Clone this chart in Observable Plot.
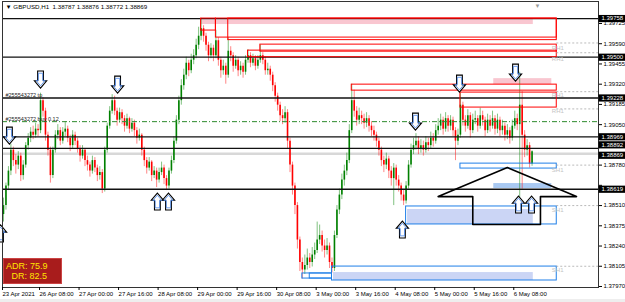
<!DOCTYPE html>
<html><head><meta charset="utf-8">
<script src="https://cdn.jsdelivr.net/npm/d3@7"></script>
<script src="https://cdn.jsdelivr.net/npm/@observablehq/plot@0.6"></script>
<style>
body{margin:0;background:#fff;}
#wrap{position:relative;width:625px;height:302px;overflow:hidden;font-family:"Liberation Sans",Arial,sans-serif;}
#wrap svg{position:absolute;left:0;top:0;}
#adr{position:absolute;left:3px;top:258px;width:57px;height:22px;background:#a81c1c;border:1px solid #cc4444;color:#ffe600;font-size:9px;line-height:10px;padding-top:2px;}
#adr div{white-space:pre;}
#strip{position:absolute;left:0;top:299px;width:625px;height:3px;background:#eeeeee;}
</style></head><body><div id="wrap"><div id="strip"></div></div>
<script>
// ---------- data ----------
const titleText = "▼ GBPUSD,H1  1.38787 1.38876 1.38772 1.38869";
const adrLines = ["ADR: 75.9", "  DR: 82.5"];
const firstOpen = 1.3845;
const close = [
1.3851,1.3864,1.3874,1.3888,1.3881,1.3878,1.3884,1.3871,1.3878,1.3891,
1.3896,1.3900,1.3898,1.3902,1.3901,1.3921,1.3914,1.3898,1.3888,1.3871,
1.3888,1.3898,1.3901,1.3894,1.3900,1.3902,1.3896,1.3891,1.3898,1.3894,
1.3889,1.3884,1.3888,1.3881,1.3878,1.3874,1.3881,1.3876,1.3871,1.3873,
1.3862,1.3888,1.3904,1.3914,1.3921,1.3914,1.3908,1.3913,1.3909,1.3904,
1.3909,1.3902,1.3906,1.3901,1.3896,1.3898,1.3888,1.3881,1.3876,1.3880,
1.3871,1.3874,1.3868,1.3873,1.3876,1.3869,1.3864,1.3874,1.3881,1.3894,
1.3908,1.3921,1.3931,1.3938,1.3946,1.3941,1.3948,1.3951,1.3958,1.3964,
1.3969,1.3964,1.3958,1.3951,1.3956,1.3951,1.3961,1.3948,1.3941,1.3944,
1.3938,1.3954,1.3951,1.3944,1.3948,1.3941,1.3944,1.3940,1.3948,1.3951,
1.3946,1.3949,1.3944,1.3948,1.3951,1.3948,1.3941,1.3942,1.3938,1.3931,
1.3924,1.3918,1.3911,1.3909,1.3913,1.3894,1.3878,1.3864,1.3851,1.3828,
1.3813,1.3808,1.3811,1.3816,1.3813,1.3818,1.3821,1.3828,1.3831,1.3824,
1.3821,1.3824,1.3813,1.3809,1.3831,1.3848,1.3858,1.3868,1.3874,1.3881,
1.3901,1.3921,1.3914,1.3908,1.3911,1.3909,1.3906,1.3909,1.3904,1.3901,
1.3898,1.3894,1.3888,1.3881,1.3878,1.3882,1.3874,1.3869,1.3876,1.3868,
1.3864,1.3858,1.3854,1.3864,1.3878,1.3888,1.3891,1.3894,1.3889,1.3891,
1.3888,1.3893,1.3891,1.3896,1.3894,1.3901,1.3904,1.3908,1.3902,1.3909,
1.3904,1.3908,1.3901,1.3894,1.3898,1.3918,1.3908,1.3904,1.3911,1.3901,
1.3908,1.3909,1.3904,1.3911,1.3908,1.3901,1.3908,1.3904,1.3909,1.3902,
1.3908,1.3901,1.3904,1.3898,1.3901,1.3896,1.3904,1.3909,1.3905,1.3918,
1.3898,1.3888,1.3891,1.38787,1.38869];
const high = [
1.3856,1.3866,1.3877,1.3892,1.3890,1.3885,1.3887,1.3886,1.3881,1.3893,
1.3899,1.3903,1.3904,1.3906,1.3905,1.3926,1.3923,1.3916,1.3900,1.3890,
1.3890,1.3901,1.3905,1.3903,1.3903,1.3907,1.3904,1.3898,1.3901,1.3900,
1.3896,1.3891,1.3891,1.3889,1.3884,1.3880,1.3884,1.3883,1.3878,1.3877,
1.3875,1.3890,1.3906,1.3917,1.3925,1.3924,1.3916,1.3916,1.3915,1.3911,
1.3912,1.3910,1.3909,1.3908,1.3903,1.3902,1.3899,1.3890,1.3883,1.3883,
1.3881,1.3877,1.3876,1.3876,1.3880,1.3878,1.3871,1.3876,1.3884,1.3897,
1.3911,1.3924,1.3935,1.3942,1.3950,1.3948,1.3952,1.3955,1.3962,1.3970,
1.3976,1.3971,1.3966,1.3960,1.3959,1.3958,1.3968,1.3963,1.3950,1.3948,
1.3946,1.3963,1.3957,1.3953,1.3951,1.3950,1.3947,1.3946,1.3951,1.3955,
1.3953,1.3952,1.3951,1.3951,1.3958,1.3953,1.3950,1.3946,1.3944,1.3940,
1.3933,1.3926,1.3920,1.3915,1.3917,1.3915,1.3896,1.3880,1.3866,1.3853,
1.3830,1.3816,1.3818,1.3822,1.3819,1.3823,1.3826,1.3840,1.3838,1.3834,
1.3828,1.3829,1.3826,1.3816,1.3834,1.3851,1.3862,1.3872,1.3878,1.3886,
1.3905,1.3932,1.3928,1.3917,1.3916,1.3914,1.3912,1.3913,1.3911,1.3907,
1.3904,1.3900,1.3896,1.3890,1.3884,1.3886,1.3884,1.3877,1.3879,1.3878,
1.3871,1.3866,1.3861,1.3867,1.3881,1.3892,1.3896,1.3899,1.3897,1.3895,
1.3894,1.3897,1.3896,1.3900,1.3899,1.3905,1.3909,1.3912,1.3910,1.3913,
1.3911,1.3911,1.3910,1.3903,1.3902,1.3926,1.3920,1.3911,1.3915,1.3913,
1.3912,1.3914,1.3911,1.3916,1.3914,1.3910,1.3912,1.3911,1.3914,1.3911,
1.3912,1.3910,1.3908,1.3906,1.3905,1.3903,1.3908,1.3914,1.3912,1.3940,
1.3927,1.3901,1.3895,1.3893,1.38876];
const low = [
1.3840,1.3848,1.3861,1.3871,1.3877,1.3872,1.3875,1.3867,1.3868,1.3876,
1.3888,1.3893,1.3895,1.3896,1.3897,1.3899,1.3910,1.3894,1.3884,1.3866,
1.3869,1.3886,1.3895,1.3891,1.3892,1.3897,1.3893,1.3887,1.3889,1.3891,
1.3886,1.3880,1.3882,1.3877,1.3874,1.3870,1.3872,1.3873,1.3867,1.3868,
1.3859,1.3860,1.3886,1.3902,1.3912,1.3911,1.3904,1.3906,1.3905,1.3900,
1.3902,1.3899,1.3900,1.3897,1.3892,1.3894,1.3884,1.3877,1.3872,1.3874,
1.3867,1.3869,1.3863,1.3866,1.3871,1.3865,1.3861,1.3862,1.3872,1.3879,
1.3892,1.3905,1.3918,1.3928,1.3935,1.3937,1.3939,1.3945,1.3949,1.3955,
1.3961,1.3960,1.3954,1.3947,1.3949,1.3947,1.3949,1.3944,1.3936,1.3938,
1.3932,1.3936,1.3947,1.3940,1.3942,1.3937,1.3938,1.3936,1.3938,1.3946,
1.3943,1.3944,1.3941,1.3942,1.3946,1.3945,1.3938,1.3938,1.3934,1.3927,
1.3920,1.3914,1.3907,1.3905,1.3906,1.3889,1.3873,1.3858,1.3845,1.3822,
1.3807,1.3802,1.3805,1.3808,1.3809,1.3810,1.3815,1.3819,1.3825,1.3820,
1.3816,1.3818,1.3809,1.3806,1.3807,1.3829,1.3845,1.3855,1.3864,1.3871,
1.3879,1.3899,1.3910,1.3904,1.3905,1.3905,1.3902,1.3903,1.3900,1.3897,
1.3894,1.3890,1.3884,1.3877,1.3873,1.3875,1.3869,1.3864,1.3851,1.3864,
1.3860,1.3854,1.3851,1.3852,1.3862,1.3876,1.3885,1.3888,1.3885,1.3886,
1.3884,1.3886,1.3887,1.3889,1.3890,1.3892,1.3898,1.3901,1.3898,1.3900,
1.3900,1.3901,1.3897,1.3881,1.3891,1.3896,1.3904,1.3900,1.3902,1.3896,
1.3899,1.3905,1.3900,1.3902,1.3904,1.3897,1.3899,1.3900,1.3902,1.3898,
1.3899,1.3897,1.3898,1.3894,1.3895,1.3892,1.3894,1.3902,1.3901,1.3856,
1.3862,1.3883,1.3884,1.3876,1.38772];

// time axis (bar index -> label)
const xTickIdx = [0,15,31,47,63,79,95,111,127,143,159,175,191,207];
const xTickLabels = ["23 Apr 2021","26 Apr 08:00","27 Apr 00:00","27 Apr 16:00","28 Apr 08:00",
  "29 Apr 00:00","29 Apr 16:00","30 Apr 08:00","3 May 00:00","3 May 16:00","4 May 08:00",
  "5 May 00:00","5 May 16:00","6 May 08:00"];
const yTicks = [1.39725,1.39590,1.39455,1.39320,1.39185,1.39050,1.38915,1.38780,1.38645,1.38510,1.38375,1.38240,1.38105,1.37970];
const yTicksHidden = [1.38915,1.38645]; // covered by price boxes

// horizontal levels
const blackLevels = [1.39758,1.39500,1.39228,1.38969,1.38892,1.38619];
const priceBoxes = [1.39758,1.39500,1.39228,1.38969,1.38619];
const priceBoxUpper = 1.38892;
const bidPrice = 1.38869;
const orderPrice = 1.39070;
const orderLabels = [["#255543272 tp", 1.39228], ["#255543272 buy 0.12", 1.39070]];

// zones: [startBar, endBar, priceTop, priceBottom]
const redBoxes = [[80,86,1.39758,1.39678],[86,224,1.39758,1.39631],[91,224,1.39758,1.39614],
  [104,224,1.39584,1.39537],[99,224,1.39544,1.39500],[141,224,1.39317,1.39277],[185,224,1.39264,1.39164]];
const blueBoxes = [[185,224,1.38790,1.38757],[163,224,1.38504,1.38384],[133,224,1.38103,1.38010],
  [121,133,1.38057,1.38023],[124,133,1.38057,1.38023]];
const pinkFills = [[80,214.5,1.39750,1.39718],[198.5,222,1.39357,1.39317]];
const blueFills = [[198.5,222,1.38657,1.38624]];
const lavFills = [[163.6,214.5,1.38484,1.38384],[133.6,214.5,1.38063,1.38010]];
const dashLevels = [1.39595,1.39530,1.39270,1.39155,1.38780,1.38510,1.38105];
const zoneTags = [["RH1",1.39560],["RH1",1.39490],["RH1",1.39250],["RH1",1.39140],["SH1",1.38750],["SH1",1.38480],["SH1",1.38080]];

// big hollow arrow outline [bar, price]
const bigArrow = [[204,1.38764],[176,1.38570],[190,1.38570],[190,1.38384],[217.4,1.38384],[217.4,1.38570],[232,1.38570],[204,1.38764]];
// fractal arrows [bar, price(center)]
const downArrows = [[2.4,1.38977],[15,1.39351],[46.2,1.39317],[166.8,1.39070],[184.6,1.39324],[207.3,1.39397]];
const upArrows = [[-1.2,1.38324],[62.3,1.38537],[66.8,1.38537],[161.5,1.38350],[208.5,1.38517],[213.8,1.38517]];
const chartShiftBar = 216.2;

// ---------- build ----------
const bars = close.map((c, i) => ({i, open: i ? close[i-1] : firstOpen, close: c, high: high[i], low: low[i]}));
bars.forEach(b => b.up = b.close >= b.open);
const box = a => ({x1: a[0], x2: a[1], y1: a[2], y2: a[3]});
const xDomain = [-0.4, 240.9];
const yDomain = [1.379633, 1.398718];

function arrowSym(up) {
  return {draw(ctx, size) {
    const r = Math.sqrt(size / Math.PI), s = up ? -1 : 1;
    const sw = 0.34 * r, hw = 0.72 * r, hy = 0.15 * r;
    ctx.moveTo(-sw, -s*r); ctx.lineTo(sw, -s*r); ctx.lineTo(sw, s*hy); ctx.lineTo(hw, s*hy);
    ctx.lineTo(0, s*r); ctx.lineTo(-hw, s*hy); ctx.lineTo(-sw, s*hy); ctx.closePath();
  }};
}
const labelBox = {draw(ctx) { ctx.rect(0, -3.6, 27, 7.2); }};
const fmt5 = d => d.toFixed(5);

const chart = Plot.plot({
  width: 625, height: 302,
  marginLeft: 2, marginRight: 27, marginTop: 1, marginBottom: 15,
  x: {domain: xDomain},
  y: {domain: yDomain},
  style: {fontFamily: "Liberation Sans, Arial, sans-serif", fontSize: "6px", background: "transparent", overflow: "visible", color: "#000"},
  marks: [
    Plot.rect(pinkFills.map(box), {x1: "x1", x2: "x2", y1: "y1", y2: "y2", fill: "#f9c6d0"}),
    Plot.rect(lavFills.map(box), {x1: "x1", x2: "x2", y1: "y1", y2: "y2", fill: "#cbd5f5"}),
    Plot.rect(blueFills.map(box), {x1: "x1", x2: "x2", y1: "y1", y2: "y2", fill: "#a9c9f2"}),
    Plot.ruleY([bidPrice], {stroke: "#d8d8d8", strokeWidth: 2.5, dy: 2}),
    Plot.ruleX(bars, {x: "i", y1: "low", y2: "high", stroke: d => d.up ? "#1a8f1a" : "#ff2020", strokeOpacity: 0.55, strokeWidth: 1}),
    Plot.ruleX(bars, {x: "i", y1: "open", y2: "close", stroke: d => d.up ? "#008000" : "#ff0000", strokeWidth: 1.6}),
    Plot.ruleY(blackLevels, {stroke: "#111", strokeWidth: 1.3}),
    Plot.ruleY([orderPrice], {stroke: "#2e8b2e", strokeWidth: 1, strokeDasharray: "5,2,1,2"}),
    Plot.rect(redBoxes.map(box), {x1: "x1", x2: "x2", y1: "y1", y2: "y2", fill: "none", stroke: "#ff0000", strokeWidth: 1}),
    Plot.rect(blueBoxes.map(box), {x1: "x1", x2: "x2", y1: "y1", y2: "y2", fill: "none", stroke: "#1f7fe8", strokeWidth: 1}),
    Plot.ruleY(dashLevels, {x1: 224, x2: xDomain[1], stroke: "#a8a8a8", strokeDasharray: "2,2", strokeWidth: 0.8}),
    Plot.text(zoneTags, {x: 222, y: d => d[1], text: d => d[0], fill: "#c4c4c4", textAnchor: "start", fontSize: 6}),
    Plot.line(bigArrow, {x: d => d[0], y: d => d[1], stroke: "#000", strokeWidth: 1.6}),
    Plot.dot(downArrows, {x: d => d[0], y: d => d[1], r: 8.5, symbol: arrowSym(false), fill: "#fff", stroke: "#000", strokeWidth: 1.1}),
    Plot.dot(downArrows, {x: d => d[0], y: d => d[1], r: 6.3, symbol: arrowSym(false), fill: "none", stroke: "#4a86e8", strokeWidth: 0.8}),
    Plot.dot(upArrows, {x: d => d[0], y: d => d[1], r: 8.5, symbol: arrowSym(true), fill: "#fff", stroke: "#000", strokeWidth: 1.1}),
    Plot.dot(upArrows, {x: d => d[0], y: d => d[1], r: 6.3, symbol: arrowSym(true), fill: "none", stroke: "#4a86e8", strokeWidth: 0.8}),
    Plot.text(orderLabels, {y: d => d[1], text: d => d[0], frameAnchor: "left", dx: 3, textAnchor: "start", lineAnchor: "bottom", dy: -1, fontSize: 5.5, fill: "#222"}),
    Plot.text([titleText], {frameAnchor: "top-left", dx: 3, dy: 3, textAnchor: "start", lineAnchor: "top", fontSize: 6.2, fill: "#000"}),
    Plot.text(["▼"], {x: chartShiftBar, frameAnchor: "top", dy: 2, lineAnchor: "top", fontSize: 6, fill: "#999"}),
    Plot.frame({stroke: "#333", strokeWidth: 1}),
    Plot.axisY({anchor: "right", ticks: yTicks, tickSize: 3, tickPadding: 2,
      tickFormat: d => yTicksHidden.includes(d) ? "" : fmt5(d), fontSize: 6, fill: "#000", stroke: "#000"}),
    Plot.axisX({anchor: "bottom", ticks: xTickIdx, tickSize: 3, tickPadding: 1.5, textAnchor: "start", dx: -1,
      tickFormat: d => xTickLabels[xTickIdx.indexOf(d)], fontSize: 6, fill: "#000", stroke: "#000"}),
    Plot.dot(priceBoxes, {y: d => d, frameAnchor: "right", symbol: labelBox, r: 3, fill: "#000"}),
    Plot.text(priceBoxes, {y: d => d, text: fmt5, frameAnchor: "right", dx: 3, textAnchor: "start", fill: "#fff", fontSize: 6}),
    Plot.dot([priceBoxUpper], {y: d => d, frameAnchor: "right", dy: -3.5, symbol: labelBox, r: 3, fill: "#000"}),
    Plot.text([priceBoxUpper], {y: d => d, text: fmt5, frameAnchor: "right", dx: 3, dy: -3.5, textAnchor: "start", fill: "#fff", fontSize: 6}),
    Plot.dot([bidPrice], {y: d => d, frameAnchor: "right", dy: 3.5, symbol: labelBox, r: 3, fill: "#000"}),
    Plot.text([bidPrice], {y: d => d, text: fmt5, frameAnchor: "right", dx: 3, dy: 3.5, textAnchor: "start", fill: "#fff", fontSize: 6})
  ]
});
const wrap = document.getElementById("wrap");
wrap.insertBefore(chart, wrap.firstChild);
const adr = document.createElement("div");
adr.id = "adr";
adrLines.forEach(t => { const d = document.createElement("div"); d.textContent = " " + t; adr.appendChild(d); });
wrap.appendChild(adr);
</script></body></html>
